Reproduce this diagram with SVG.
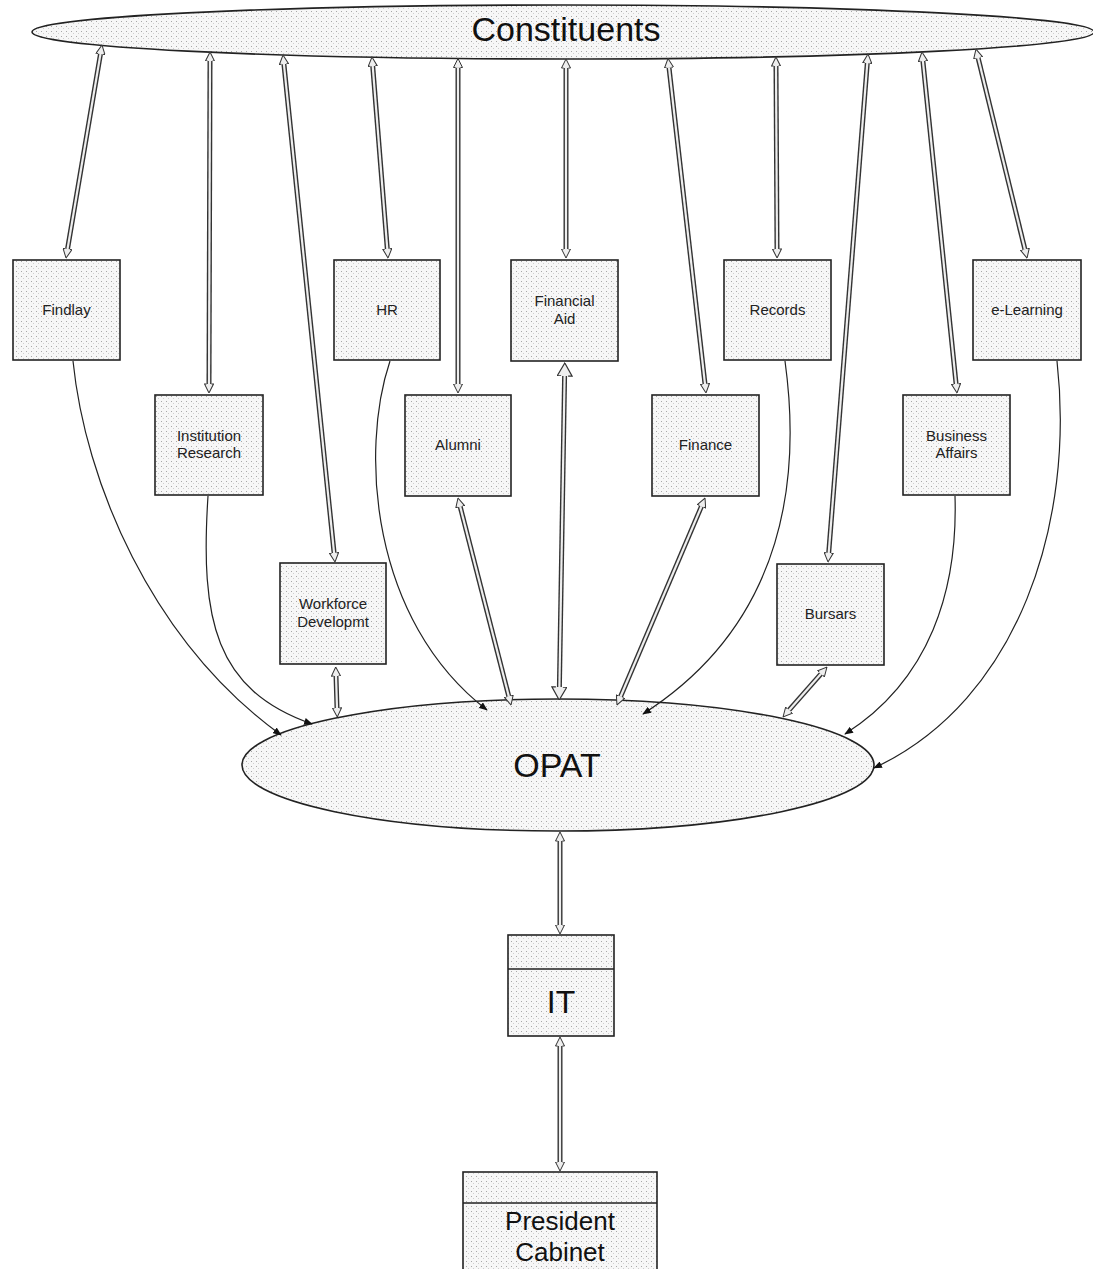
<svg xmlns="http://www.w3.org/2000/svg" width="1093" height="1269" viewBox="0 0 1093 1269">
<style>
.nd{fill:url(#dots);stroke:#222;stroke-width:1.6}
.lb{font-family:"Liberation Sans",Arial,sans-serif;font-size:15px;fill:#222;text-anchor:middle}
.big{font-family:"Liberation Sans",Arial,sans-serif;fill:#111;text-anchor:middle}
.dbo{fill:none;stroke:#333;stroke-width:5}
.dbi{fill:none;stroke:#eee;stroke-width:2.2;marker-start:url(#dh);marker-end:url(#dh)}
.cv{fill:none;stroke:#222;stroke-width:1.2;marker-end:url(#fa)}
</style>
<defs>
<pattern id="dots" width="5" height="5" patternUnits="userSpaceOnUse">
<rect width="5" height="5" fill="#f7f7f7"/>
<rect x="1" y="1" width="1" height="1" fill="#a8a8a8"/>
<rect x="3" y="3" width="1" height="1" fill="#cfcfcf"/>
</pattern>
<marker id="dh" viewBox="0 0 10 10" markerWidth="10" markerHeight="10" markerUnits="userSpaceOnUse" refX="0.5" refY="5" orient="auto-start-reverse">
<path d="M0.5,2.5 L0.5,0.5 L9.5,5 L0.5,9.5 L0.5,7.5" fill="#eee" stroke="#333" stroke-width="1"/>
</marker>
<marker id="dhb" viewBox="0 0 14 16" markerWidth="14" markerHeight="16" markerUnits="userSpaceOnUse" refX="0.5" refY="8" orient="auto-start-reverse">
<path d="M0.5,4.5 L0.5,0.5 L13.5,8 L0.5,15.5 L0.5,11.5" fill="#eee" stroke="#333" stroke-width="1.2"/>
</marker>
<marker id="fa" viewBox="0 0 10 8" markerWidth="9" markerHeight="7" markerUnits="userSpaceOnUse" refX="9" refY="4" orient="auto">
<path d="M0,0 L10,4 L0,8 z" fill="#111"/>
</marker>
</defs>

<g id="constituents">
<ellipse class="nd" cx="563" cy="32" rx="531" ry="27"/>
<text class="big" x="566" y="41" font-size="34">Constituents</text>
</g>
<g id="findlay"><rect class="nd" x="13" y="260" width="107" height="100"/><text class="lb" x="66.5" y="315">Findlay</text></g>
<g id="institution-research"><rect class="nd" x="155" y="395" width="108" height="100"/><text class="lb" x="209" y="441">Institution</text><text class="lb" x="209" y="458">Research</text></g>
<g id="hr"><rect class="nd" x="334" y="260" width="106" height="100"/><text class="lb" x="387" y="315">HR</text></g>
<g id="alumni"><rect class="nd" x="405" y="395" width="106" height="101"/><text class="lb" x="458" y="450">Alumni</text></g>
<g id="financial-aid"><rect class="nd" x="511" y="260" width="107" height="101"/><text class="lb" x="564.5" y="306">Financial</text><text class="lb" x="564.5" y="324">Aid</text></g>
<g id="finance"><rect class="nd" x="652" y="395" width="107" height="101"/><text class="lb" x="705.5" y="450">Finance</text></g>
<g id="records"><rect class="nd" x="724" y="260" width="107" height="100"/><text class="lb" x="777.5" y="315">Records</text></g>
<g id="business-affairs"><rect class="nd" x="903" y="395" width="107" height="100"/><text class="lb" x="956.5" y="441">Business</text><text class="lb" x="956.5" y="458">Affairs</text></g>
<g id="e-learning"><rect class="nd" x="973" y="260" width="108" height="100"/><text class="lb" x="1027" y="315">e-Learning</text></g>
<g id="workforce"><rect class="nd" x="280" y="563" width="106" height="101"/><text class="lb" x="333" y="609">Workforce</text><text class="lb" x="333" y="627">Developmt</text></g>
<g id="bursars"><rect class="nd" x="777" y="564" width="107" height="101"/><text class="lb" x="830.5" y="619">Bursars</text></g>
<g id="opat">
<ellipse class="nd" cx="558" cy="765" rx="316" ry="66"/>
<text class="big" x="557" y="777" font-size="34">OPAT</text>
</g>
<g id="it">
<rect class="nd" x="508" y="935" width="106" height="101"/>
<line x1="508" y1="969" x2="614" y2="969" stroke="#222" stroke-width="1.6"/>
<text class="big" x="561" y="1013" font-size="32">IT</text>
</g>
<g id="president-cabinet">
<rect class="nd" x="463" y="1172" width="194" height="120"/>
<line x1="463" y1="1203" x2="657" y2="1203" stroke="#222" stroke-width="1.6"/>
<text class="big" x="560" y="1230" font-size="26">President</text>
<text class="big" x="560" y="1261" font-size="26">Cabinet</text>
</g>

<g id="connectors">
<path class="dbo" d="M100.5,53.9 L67.5,249.1"/><path class="dbi" d="M100.5,53.9 L67.5,249.1"/>
<path class="dbo" d="M210,61 L209,384"/><path class="dbi" d="M210,61 L209,384"/>
<path class="dbo" d="M283.9,64 L334.1,553"/><path class="dbi" d="M283.9,64 L334.1,553"/>
<path class="dbo" d="M372.7,66 L387.3,249"/><path class="dbi" d="M372.7,66 L387.3,249"/>
<path class="dbo" d="M458,67.5 L458,384"/><path class="dbi" d="M458,67.5 L458,384"/>
<path class="dbo" d="M566,68 L566,249"/><path class="dbi" d="M566,68 L566,249"/>
<path class="dbo" d="M669,67.5 L705,384"/><path class="dbi" d="M669,67.5 L705,384"/>
<path class="dbo" d="M776,66 L777,249"/><path class="dbi" d="M776,66 L777,249"/>
<path class="dbo" d="M867.3,63 L828.7,553"/><path class="dbi" d="M867.3,63 L828.7,553"/>
<path class="dbo" d="M922.9,61 L956.1,384"/><path class="dbi" d="M922.9,61 L956.1,384"/>
<path class="dbo" d="M978.1,57.8 L1024.9,249.3"/><path class="dbi" d="M978.1,57.8 L1024.9,249.3"/>

<path class="dbo" d="M336,676 L337,708"/><path class="dbi" d="M336,676 L337,708"/>
<path class="dbo" d="M460.2,506.7 L508.8,696.3"/><path class="dbi" d="M460.2,506.7 L508.8,696.3"/>
<path class="dbo" d="M564.6,376 L559.4,687" stroke-width="7"/><path class="dbi" d="M564.6,376 L559.4,687" stroke-width="4" style="marker-start:url(#dhb);marker-end:url(#dhb)"/>
<path class="dbo" d="M701.5,506.3 L620.5,696.7"/><path class="dbi" d="M701.5,506.3 L620.5,696.7"/>
<path class="dbo" d="M821,673.8 L789,710.2"/><path class="dbi" d="M821,673.8 L789,710.2"/>
<path class="dbo" d="M560,841 L560,925"/><path class="dbi" d="M560,841 L560,925"/>
<path class="dbo" d="M560,1046 L560,1162"/><path class="dbi" d="M560,1046 L560,1162"/>

<path class="cv" d="M73,361 C85,480 150,640 281,735"/>
<path class="cv" d="M208,496 C200,620 215,690 312,724"/>
<path class="cv" d="M390,361 C360,450 370,620 487,710"/>
<path class="cv" d="M785,361 C800,470 790,620 643,714"/>
<path class="cv" d="M955,496 C958,590 930,680 845,734"/>
<path class="cv" d="M1057,361 C1075,520 1020,700 874,768"/>
</g>
</svg>
